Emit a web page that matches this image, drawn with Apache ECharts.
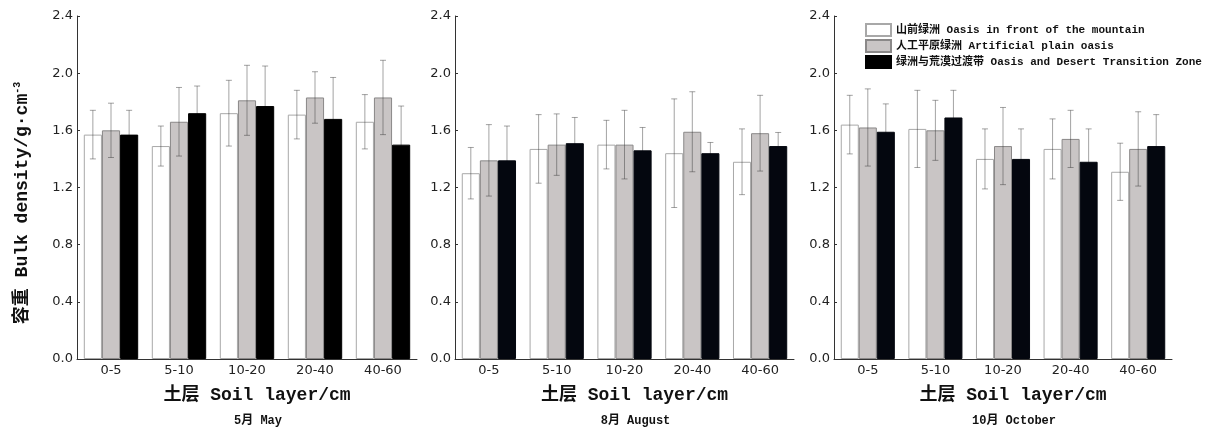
<!DOCTYPE html>
<html>
<head>
<meta charset="utf-8">
<script src="https://cdn.jsdelivr.net/npm/echarts@6/dist/echarts.min.js"></script>
<style>
  html, body { margin: 0; padding: 0; background: #fff; }
  #chart { width: 1216px; height: 430px; }
</style>
</head>
<body>
<div id="chart"></div>
<script>
const layers = ["0-5", "5-10", "10-20", "20-40", "40-60"];
const yTicks = [0, 0.4, 0.8, 1.2, 1.6, 2.0, 2.4];
const zoneNames = [
  "山前绿洲 Oasis in front of the mountain",
  "人工平原绿洲 Artificial plain oasis",
  "绿洲与荒漠过渡带 Oasis and Desert Transition Zone"
];
const monthNames = ["5月 May", "8月 August", "10月 October"];

// May
const mayMountain = [1.57, 1.49, 1.72, 1.71, 1.66];
const mayMountainSd = [0.17, 0.14, 0.23, 0.17, 0.19];
const mayPlain = [1.60, 1.66, 1.81, 1.83, 1.83];
const mayPlainSd = [0.19, 0.24, 0.245, 0.18, 0.26];
const mayTransition = [1.57, 1.72, 1.77, 1.68, 1.50];
const mayTransitionSd = [0.17, 0.19, 0.28, 0.29, 0.27];

// August
const augMountain = [1.30, 1.47, 1.50, 1.44, 1.38];
const augMountainSd = [0.18, 0.24, 0.17, 0.38, 0.23];
const augPlain = [1.39, 1.50, 1.50, 1.59, 1.58];
const augPlainSd = [0.25, 0.215, 0.24, 0.28, 0.265];
const augTransition = [1.39, 1.51, 1.46, 1.44, 1.49];
const augTransitionSd = [0.24, 0.18, 0.16, 0.075, 0.095];

// October
const octMountain = [1.64, 1.61, 1.40, 1.47, 1.31];
const octMountainSd = [0.205, 0.27, 0.21, 0.21, 0.20];
const octPlain = [1.62, 1.60, 1.49, 1.54, 1.47];
const octPlainSd = [0.27, 0.21, 0.27, 0.20, 0.26];
const octTransition = [1.59, 1.69, 1.40, 1.38, 1.49];
const octTransitionSd = [0.195, 0.19, 0.21, 0.23, 0.22];

const months = [
  { means: [mayMountain, mayPlain, mayTransition], sds: [mayMountainSd, mayPlainSd, mayTransitionSd], dark: "#000000" },
  { means: [augMountain, augPlain, augTransition], sds: [augMountainSd, augPlainSd, augTransitionSd], dark: "#04070f" },
  { means: [octMountain, octPlain, octTransition], sds: [octMountainSd, octPlainSd, octTransitionSd], dark: "#04070f" }
];

const mono = "'Liberation Mono', 'Noto Sans CJK SC', monospace";
const grids = [
  { left: 77, width: 340 },
  { left: 455, width: 339 },
  { left: 834, width: 338 }
];

function barStyle(k, dark) {
  if (k === 0) return { color: "#ffffff", borderColor: "#a8a8a8", borderWidth: 1 };
  if (k === 1) return { color: "#c9c5c5", borderColor: "#8a8888", borderWidth: 1 };
  return { color: dark, borderColor: dark, borderWidth: 1 };
}

function errRender(k) {
  return function (params, api) {
    const i = api.value(0), v = api.value(1), e = api.value(2);
    const band = api.size([1, 0])[0];
    const bw = band * 0.8 / 3;
    const top = api.coord([i, v + e]);
    const bot = api.coord([i, v - e]);
    const x = top[0] + (k - 1) * bw;
    const cap = 3;
    const st = { stroke: "rgba(50,50,50,0.45)", lineWidth: 1 };
    return {
      type: "group",
      children: [
        { type: "line", shape: { x1: x, y1: top[1], x2: x, y2: bot[1] }, style: st },
        { type: "line", shape: { x1: x - cap, y1: top[1], x2: x + cap, y2: top[1] }, style: st },
        { type: "line", shape: { x1: x - cap, y1: bot[1], x2: x + cap, y2: bot[1] }, style: st }
      ]
    };
  };
}

const series = [];
months.forEach((m, g) => {
  for (let k = 0; k < 3; k++) {
    series.push({
      name: zoneNames[k],
      type: "bar",
      xAxisIndex: g,
      yAxisIndex: g,
      z: 2,
      barGap: "0%",
      barCategoryGap: "20%",
      itemStyle: barStyle(k, m.dark),
      data: m.means[k]
    });
  }
  for (let k = 0; k < 3; k++) {
    series.push({
      type: "custom",
      xAxisIndex: g,
      yAxisIndex: g,
      z: k === 2 ? 1 : 5, // black bars hide the lower half of their error bar
      silent: true,
      renderItem: errRender(k),
      data: m.means[k].map((v, i) => [i, v, m.sds[k][i]])
    });
  }
});

const chart = echarts.init(document.getElementById("chart"));
chart.setOption({
  animation: false,
  legend: {
    data: zoneNames,
    orient: "vertical",
    icon: "rect",
    left: 860,
    top: 18,
    itemWidth: 25,
    itemHeight: 12,
    itemGap: 2,
    textStyle: { fontFamily: mono, fontSize: 11, color: "#111", fontWeight: "bold" }
  },
  title: monthNames.map((t, g) => ({
    text: t,
    left: grids[g].left + grids[g].width / 2 + 6,
    top: 410,
    textAlign: "center",
    textStyle: { fontFamily: mono, fontSize: 12, fontWeight: "bold", color: "#111" }
  })),
  grid: grids.map(gr => ({ left: gr.left, width: gr.width, top: 16, height: 343 })),
  xAxis: grids.map((gr, g) => ({
    type: "category",
    gridIndex: g,
    data: layers,
    name: "土层 Soil layer/cm",
    nameLocation: "middle",
    nameGap: 27,
    nameTextStyle: { fontFamily: mono, fontSize: 18, fontWeight: "bold", color: "#111", padding: [0, 0, 0, 20] },
    axisLine: { lineStyle: { color: "#333", width: 1 } },
    axisTick: { show: false },
    axisLabel: { fontFamily: "DejaVu Sans", fontSize: 13, color: "#222", margin: 5 }
  })),
  yAxis: grids.map((gr, g) => ({
    type: "value",
    gridIndex: g,
    min: yTicks[0],
    max: yTicks[yTicks.length - 1],
    interval: 0.4,
    splitLine: { show: false },
    axisLine: { show: true, lineStyle: { color: "#333", width: 1 } },
    axisTick: { show: true, inside: true, length: 3, lineStyle: { color: "#333" } },
    axisLabel: { fontFamily: "DejaVu Sans", fontSize: 13, color: "#222", margin: 4, formatter: v => v.toFixed(1) }
  })),
  graphic: [{
    type: "text",
    x: 22,
    y: 203,
    rotation: Math.PI / 2,
    style: {
      text: "{a|容重 Bulk density/g·cm}{s|-3}",
      align: "center",
      verticalAlign: "middle",
      rich: {
        a: { fontFamily: mono, fontSize: 18, fontWeight: "bold", fill: "#111" },
        s: { fontFamily: mono, fontSize: 10, fontWeight: "bold", fill: "#111", padding: [0, 0, 10, 0] }
      }
    }
  }],
  series: series
});
</script>
</body>
</html>
